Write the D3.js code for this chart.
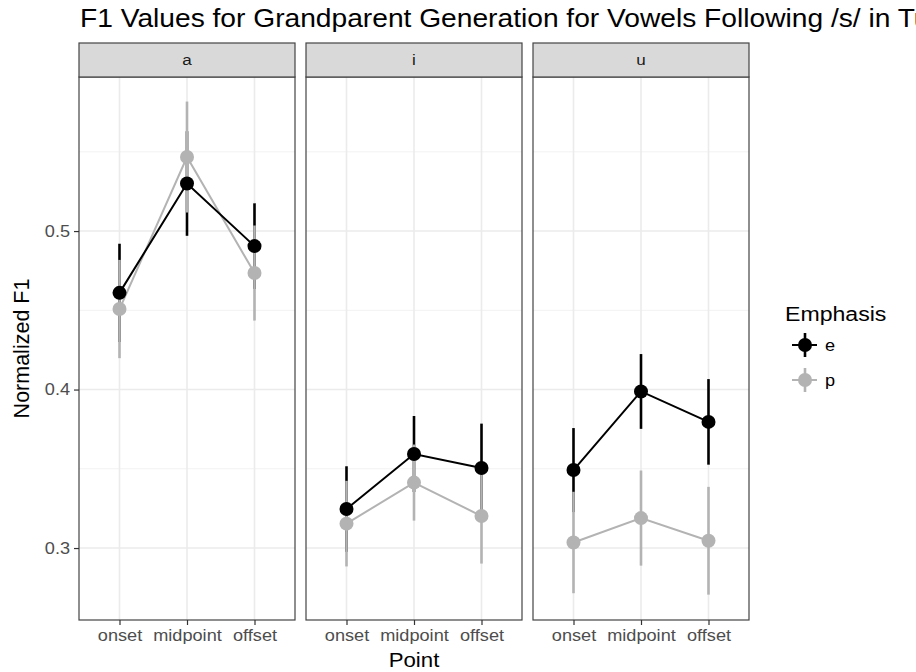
<!DOCTYPE html>
<html>
<head>
<meta charset="utf-8">
<script src="https://cdn.jsdelivr.net/npm/d3@7"></script>
<style>
  body { margin: 0; background: #fff; }
  svg { display: block; font-family: "Liberation Sans", Arial, sans-serif; }
</style>
</head>
<body>
<svg id="chart" width="916" height="672"></svg>
<script>
// data
const vowels = ["a", "i", "u"];
const points = ["onset", "midpoint", "offset"];
const emphasis = ["e", "p"];

// mean normalized F1, one row per vowel (onset, midpoint, offset)
const eMean = [[0.461, 0.530, 0.4905], [0.3246, 0.3593, 0.3505], [0.3492, 0.3988, 0.3796]];
const pMean = [[0.4508, 0.5467, 0.4735], [0.3154, 0.3413, 0.3202], [0.3035, 0.3189, 0.3046]];
// half width of error bars
const eErr = [[0.031, 0.033, 0.027], [0.027, 0.024, 0.028], [0.0265, 0.0236, 0.027]];
const pErr = [[0.031, 0.035, 0.030], [0.027, 0.024, 0.030], [0.032, 0.030, 0.034]];

const yTicks = [0.3, 0.4, 0.5];
const yMinor = [0.25, 0.35, 0.45, 0.55];

const colors = { e: "#000000", p: "#b3b3b3" };
const means = { e: eMean, p: pMean };
const errs = { e: eErr, p: pErr };

const svg = d3.select("#chart");

const panelW = 216, panelTop = 77, panelBottom = 620;
const panelLefts = [79, 306, 533];
const stripTop = 43;
const stretch = 1.1; // the original text is a bit wider than Liberation Sans

const y = d3.scaleLinear().domain([0.2546, 0.5972]).range([panelBottom, panelTop]);

// put text at x,y and widen it a little
function wideText(sel, x, yy, k) {
  return sel.append("text")
    .attr("transform", `translate(${x},${yy}) scale(${k || stretch},1)`);
}

// title (runs off the right edge like the original)
wideText(svg, 80, 27, 1.105)
  .attr("font-size", 25.5)
  .attr("fill", "#000")
  .text("F1 Values for Grandparent Generation for Vowels Following /s/ in Turkish");

vowels.forEach((v, vi) => {
  const left = panelLefts[vi];
  const x = d3.scalePoint().domain(points).range([left, left + panelW]).padding(0.6);
  const g = svg.append("g");

  g.append("rect")
    .attr("x", left).attr("y", panelTop)
    .attr("width", panelW).attr("height", panelBottom - panelTop)
    .attr("fill", "#fff");

  // grid
  g.selectAll(".minor").data(yMinor.filter(d => y(d) > panelTop && y(d) < panelBottom))
    .join("line")
    .attr("x1", left).attr("x2", left + panelW)
    .attr("y1", d => y(d)).attr("y2", d => y(d))
    .attr("stroke", "#f2f2f2").attr("stroke-width", 1);
  g.selectAll(".major").data(yTicks)
    .join("line")
    .attr("x1", left).attr("x2", left + panelW)
    .attr("y1", d => y(d)).attr("y2", d => y(d))
    .attr("stroke", "#ebebeb").attr("stroke-width", 1.6);
  g.selectAll(".vgrid").data(points)
    .join("line")
    .attr("x1", d => x(d)).attr("x2", d => x(d))
    .attr("y1", panelTop).attr("y2", panelBottom)
    .attr("stroke", "#ebebeb").attr("stroke-width", 1.6);

  const line = d3.line().x((d, i) => x(points[i])).y(d => y(d));

  // lines: p under e
  ["p", "e"].forEach(s => {
    g.append("path")
      .datum(means[s][vi])
      .attr("d", line)
      .attr("fill", "none")
      .attr("stroke", colors[s])
      .attr("stroke-width", 2);
  });

  // error bars: e first, p on top
  ["e", "p"].forEach(s => {
    g.selectAll(".err-" + s).data(means[s][vi])
      .join("line")
      .attr("x1", (d, i) => x(points[i])).attr("x2", (d, i) => x(points[i]))
      .attr("y1", (d, i) => y(d - errs[s][vi][i]))
      .attr("y2", (d, i) => y(d + errs[s][vi][i]))
      .attr("stroke", colors[s])
      .attr("stroke-width", 2.6);
  });

  ["e", "p"].forEach(s => {
    g.selectAll(".pt-" + s).data(means[s][vi])
      .join("circle")
      .attr("cx", (d, i) => x(points[i]))
      .attr("cy", d => y(d))
      .attr("r", 7)
      .attr("fill", colors[s]);
  });

  // panel border
  g.append("rect")
    .attr("x", left).attr("y", panelTop)
    .attr("width", panelW).attr("height", panelBottom - panelTop)
    .attr("fill", "none").attr("stroke", "#444").attr("stroke-width", 1.2);

  // strip
  g.append("rect")
    .attr("x", left).attr("y", stripTop)
    .attr("width", panelW).attr("height", panelTop - stripTop)
    .attr("fill", "#d9d9d9").attr("stroke", "#444").attr("stroke-width", 1.2);
  wideText(g, left + panelW / 2, (stripTop + panelTop) / 2)
    .attr("dy", "0.35em")
    .attr("text-anchor", "middle")
    .attr("font-size", 15.5)
    .attr("fill", "#1a1a1a")
    .text(v);

  // x axis
  const xAxis = g.append("g")
    .attr("transform", `translate(0,${panelBottom})`)
    .call(d3.axisBottom(x).tickSize(5).tickPadding(4));
  xAxis.select(".domain").remove();
  xAxis.selectAll(".tick line").attr("stroke", "#333").attr("stroke-width", 1.2);
  xAxis.selectAll(".tick text")
    .attr("transform", `scale(${stretch},1)`)
    .attr("font-size", 16.5)
    .attr("font-family", "Liberation Sans, Arial, sans-serif")
    .attr("fill", "#4d4d4d");
});

// y axis on first panel
const yAxis = svg.append("g")
  .attr("transform", `translate(${panelLefts[0]},0)`)
  .call(d3.axisLeft(y).tickValues(yTicks).tickFormat(d3.format(".1f")).tickSize(5).tickPadding(4));
yAxis.select(".domain").remove();
yAxis.selectAll(".tick line").attr("stroke", "#333").attr("stroke-width", 1.2);
yAxis.selectAll(".tick text")
  .attr("x", -9 / stretch)
  .attr("transform", `scale(${stretch},1)`)
  .attr("font-size", 16.5)
  .attr("font-family", "Liberation Sans, Arial, sans-serif")
  .attr("fill", "#4d4d4d");

// axis titles
svg.append("text")
  .attr("transform", `translate(29,${(panelTop + panelBottom) / 2}) rotate(-90)`)
  .attr("text-anchor", "middle")
  .attr("font-size", 21.5)
  .text("Normalized F1");

wideText(svg, (panelLefts[0] + panelLefts[2] + panelW) / 2, 667, 1.06)
  .attr("text-anchor", "middle")
  .attr("font-size", 21)
  .text("Point");

// legend
const legend = svg.append("g").attr("transform", "translate(785,0)");
wideText(legend, 0, 321)
  .attr("font-size", 21)
  .text("Emphasis");

emphasis.forEach((s, i) => {
  const cy = 345 + i * 35;
  const k = legend.append("g");
  k.append("line")
    .attr("x1", 7).attr("x2", 32).attr("y1", cy).attr("y2", cy)
    .attr("stroke", colors[s]).attr("stroke-width", 2);
  k.append("line")
    .attr("x1", 20).attr("x2", 20).attr("y1", cy - 12).attr("y2", cy + 12)
    .attr("stroke", colors[s]).attr("stroke-width", 2.6);
  k.append("circle")
    .attr("cx", 20).attr("cy", cy).attr("r", 7)
    .attr("fill", colors[s]);
  wideText(k, 40, cy)
    .attr("dy", "0.35em")
    .attr("font-size", 16.5)
    .text(s);
});
</script>
</body>
</html>
